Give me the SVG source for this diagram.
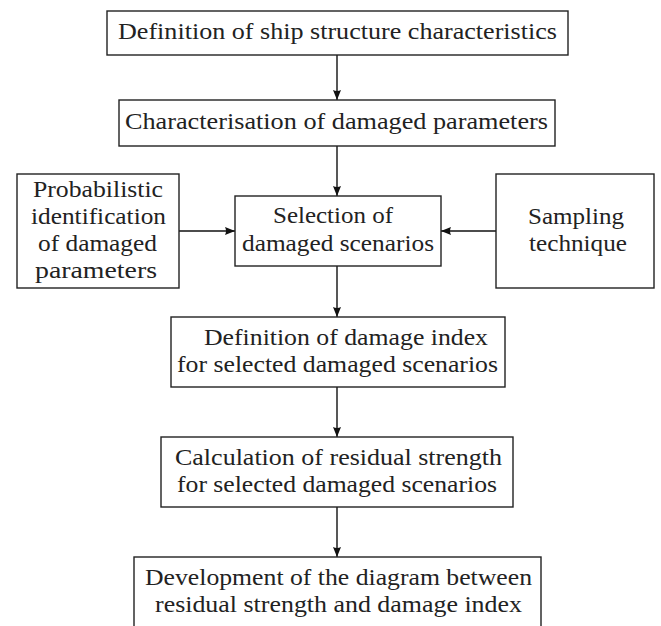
<svg xmlns="http://www.w3.org/2000/svg" width="661" height="626" viewBox="0 0 661 626">
<style>
.box{fill:#fff;stroke:#222;stroke-width:1.4}
.t{font-family:"Liberation Serif","Times New Roman",serif;font-size:22.5px;fill:#222;text-anchor:middle}
.c{stroke:#111;stroke-width:1.4;fill:none;marker-end:url(#ah)}
</style>
<defs>
<marker id="ah" markerWidth="10" markerHeight="8" refX="10" refY="4" orient="auto" markerUnits="userSpaceOnUse">
<path d="M0,0 L10,4 L0,8 Q2,4 0,0 Z" fill="#111"/>
</marker>
</defs>
<rect width="661" height="626" fill="#fff"/>
<g id="connectors">
<line class="c" x1="337" y1="55" x2="337" y2="100"/>
<line class="c" x1="337" y1="146" x2="337" y2="196"/>
<line class="c" x1="337" y1="266" x2="337" y2="317"/>
<line class="c" x1="337" y1="387" x2="337" y2="437"/>
<line class="c" x1="337" y1="507" x2="337" y2="557"/>
<line class="c" x1="179" y1="231" x2="235" y2="231"/>
<line class="c" x1="496" y1="231" x2="441" y2="231"/>
</g>
<g id="n1"><rect class="box" x="107" y="11" width="461" height="44"/><text class="t" x="337.5" y="39" textLength="439" lengthAdjust="spacingAndGlyphs">Definition of ship structure characteristics</text></g>
<g id="n2"><rect class="box" x="119" y="100" width="436" height="46"/><text class="t" x="336.5" y="129" textLength="423" lengthAdjust="spacingAndGlyphs">Characterisation of damaged parameters</text></g>
<g id="n3"><rect class="box" x="17" y="174" width="162" height="114"/><text class="t" x="98" y="197" textLength="130" lengthAdjust="spacingAndGlyphs">Probabilistic</text><text class="t" x="98.5" y="224" textLength="135" lengthAdjust="spacingAndGlyphs">identification</text><text class="t" x="97.5" y="251" textLength="119" lengthAdjust="spacingAndGlyphs">of damaged</text><text class="t" x="96" y="278" textLength="122" lengthAdjust="spacingAndGlyphs">parameters</text></g>
<g id="n4"><rect class="box" x="235" y="196" width="206" height="70"/><text class="t" x="333" y="223" textLength="120" lengthAdjust="spacingAndGlyphs">Selection of</text><text class="t" x="338" y="251" textLength="192" lengthAdjust="spacingAndGlyphs">damaged scenarios</text></g>
<g id="n5"><rect class="box" x="496" y="174" width="158" height="114"/><text class="t" x="576" y="224" textLength="96" lengthAdjust="spacingAndGlyphs">Sampling</text><text class="t" x="578" y="251" textLength="98" lengthAdjust="spacingAndGlyphs">technique</text></g>
<g id="n6"><rect class="box" x="171" y="317" width="334" height="70"/><text class="t" x="346" y="345" textLength="284" lengthAdjust="spacingAndGlyphs">Definition of damage index</text><text class="t" x="337.5" y="372" textLength="321" lengthAdjust="spacingAndGlyphs">for selected damaged scenarios</text></g>
<g id="n7"><rect class="box" x="161" y="437" width="352" height="70"/><text class="t" x="338.5" y="465" textLength="327" lengthAdjust="spacingAndGlyphs">Calculation of residual strength</text><text class="t" x="337" y="492" textLength="320" lengthAdjust="spacingAndGlyphs">for selected damaged scenarios</text></g>
<g id="n8"><rect class="box" x="134" y="557" width="407" height="80"/><text class="t" x="338.5" y="585" textLength="387" lengthAdjust="spacingAndGlyphs">Development of the diagram between</text><text class="t" x="338.5" y="612" textLength="367" lengthAdjust="spacingAndGlyphs">residual strength and damage index</text></g>
</svg>
